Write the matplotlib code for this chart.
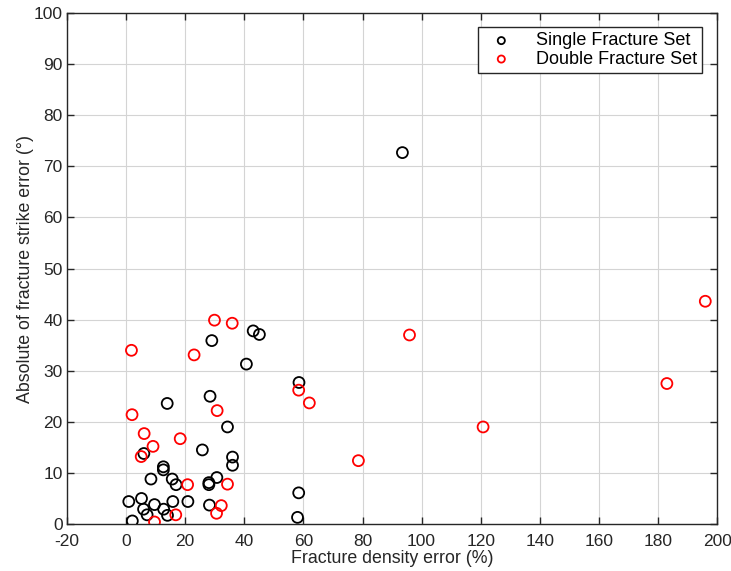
import matplotlib
matplotlib.use("Agg")
import matplotlib.pyplot as plt

plt.rcParams.update({"font.family": ["Liberation Sans", "DejaVu Sans"],
                     "font.size": 12, "axes.unicode_minus": False})
INK = "#262626"

# Single fracture set: density error (%), strike error (deg)
single_x = [93.5, 43.0, 45.1, 29.0, 40.7, 58.5, 28.4, 13.9, 34.3, 25.8,
            6.0, 36.0, 36.0, 12.6, 12.6, 30.7, 8.4, 15.6, 16.9, 28.0,
            28.0, 58.4, 0.9, 5.2, 5.9, 7.1, 9.6, 12.7, 14.0, 15.8,
            20.9, 28.2, 2.1, 58.0]
single_y = [72.7, 37.8, 37.1, 35.9, 31.3, 27.7, 25.0, 23.6, 19.0, 14.5,
            13.8, 13.1, 11.5, 11.2, 10.6, 9.1, 8.8, 8.8, 7.7, 8.1,
            7.7, 6.1, 4.4, 5.0, 2.9, 1.8, 3.8, 2.9, 1.7, 4.4,
            4.4, 3.7, 0.6, 1.3]

# Double fracture set
double_x = [29.9, 35.9, 1.8, 23.0, 2.0, 30.8, 6.1, 18.3, 9.1, 5.1,
            20.8, 34.3, 32.2, 30.6, 16.8, 9.6, 58.4, 62.0, 95.9, 120.8,
            78.6, 183.0, 196.0]
double_y = [39.9, 39.3, 34.0, 33.1, 21.4, 22.2, 17.7, 16.7, 15.2, 13.2,
            7.7, 7.8, 3.6, 2.1, 1.8, 0.4, 26.2, 23.7, 37.0, 19.0,
            12.4, 27.5, 43.6]

fig = plt.figure(figsize=(7.31, 5.71), dpi=100)
ax = fig.add_axes([0.0917, 0.0823, 0.8893, 0.8947])

ax.scatter(single_x, single_y, s=62, facecolors="none", edgecolors="black",
           linewidths=1.3, label="Single Fracture Set", zorder=3)
ax.scatter(double_x, double_y, s=62, facecolors="none", edgecolors="red",
           linewidths=1.3, label="Double Fracture Set", zorder=3)

ax.set_xlim(-20, 200)
ax.set_ylim(0, 100)
ax.set_xticks(range(-20, 201, 20))
ax.set_yticks(range(0, 101, 10))
ax.grid(True, color="#d4d4d4", lw=0.8)
ax.set_axisbelow(True)
ax.tick_params(direction="in", top=True, right=True, length=5,
               colors=INK, labelsize=12.5, width=1)
ax.tick_params(axis="x", pad=7)
ax.tick_params(axis="y", pad=3)
for sp in ax.spines.values():
    sp.set_color(INK)
    sp.set_linewidth(1)

ax.set_xlabel("Fracture density error (%)", fontsize=12.8, color=INK, labelpad=1)
ax.set_ylabel("Absolute of fracture strike error (°)", fontsize=12.8, color=INK, labelpad=0)

leg = ax.legend(loc="upper right", bbox_to_anchor=(0.977, 0.973), fontsize=13,
                fancybox=False, edgecolor=INK, framealpha=1, markerscale=0.65,
                handletextpad=0.9, borderpad=0.3, labelspacing=0.08,
                handlelength=2.0, borderaxespad=0)
leg.get_frame().set_linewidth(1)

fig.savefig("out.png", dpi=100)
